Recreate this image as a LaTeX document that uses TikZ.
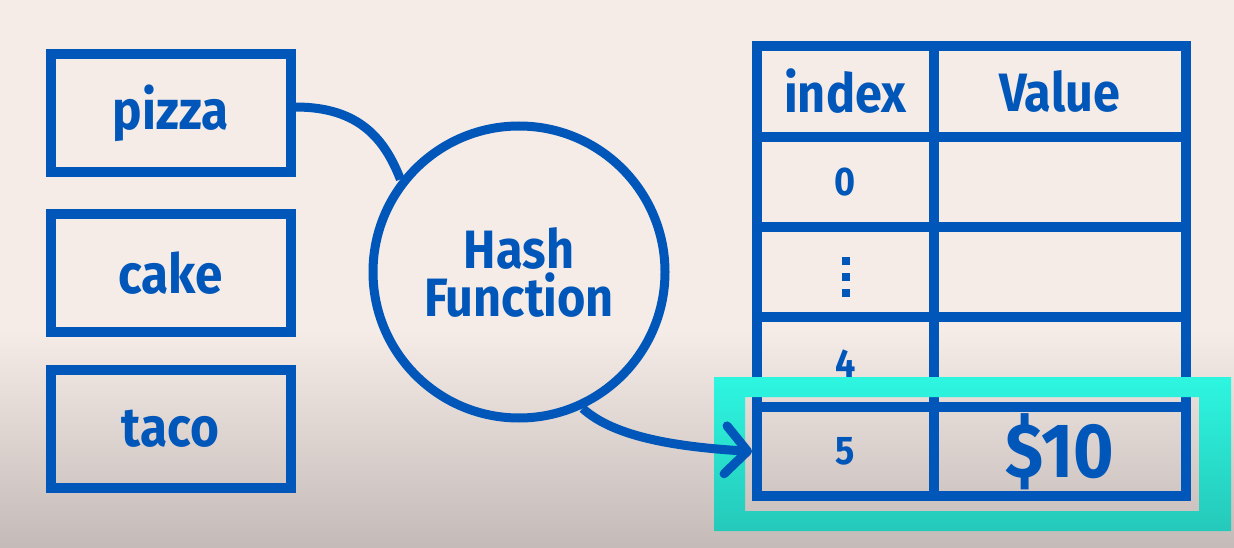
\documentclass[tikz,border=0pt]{standalone}
\usepackage{fontspec}
\setmainfont{Fira Sans}[FakeStretch=0.9]
\usetikzlibrary{arrows.meta}
\definecolor{hblue}{RGB}{0,87,185}
\definecolor{bgtop}{RGB}{245,235,231}
\definecolor{bgbot}{RGB}{196,187,184}
\definecolor{tealtop}{RGB}{45,246,224}
\definecolor{tealbot}{RGB}{37,201,186}
\begin{document}
\begin{tikzpicture}[x=1pt,y=-1pt,
  keybox/.style={draw=hblue, line width=10pt, minimum width=240pt, minimum height=118pt,
    inner sep=0pt, text=hblue, font=\fontsize{55}{60}\selectfont\bfseries},
  hashnode/.style={circle, draw=hblue, line width=9pt, minimum size=292pt, inner sep=0pt,
    text=hblue, align=center, font=\fontsize{54}{48}\selectfont\bfseries},
  cellbox/.style={draw=hblue, line width=10pt, inner sep=0pt, text=hblue},
  idxcell/.style={cellbox, minimum width=176.5pt},
  valcell/.style={cellbox, minimum width=252.2pt},
  headfont/.style={font=\fontsize{54}{60}\selectfont\bfseries},
  digfont/.style={font=\fontsize{40}{48}\selectfont\bfseries},
  bigfont/.style={font=\fontsize{77}{80}\selectfont\bfseries},
  conn/.style={draw=hblue, line width=9pt},
]
\useasboundingbox (0,0) rectangle (1234,548);
% background
\fill[bgtop] (0,0) rectangle (1234,548);
\shade[top color=bgtop, bottom color=bgbot] (0,330) rectangle (1234,548);

% keys
\node[keybox] (pizza) at (170.5,113) {pizza};
\node[keybox] (cake) at (170.5,273) {cake};
\node[keybox] (taco) at (170.5,429) {taco};

% hash function
\node[hashnode] (hash) at (519,272) {Hash\\Function};

% table
\node[idxcell, minimum height=91pt, headfont] (ih) at (845.25,91.5) {index};
\node[valcell, minimum height=91pt, headfont] (vh) at (1059.6,91.5) {Value};
\node[idxcell, minimum height=90pt, digfont] (i0) at (845.25,182) {0};
\node[valcell, minimum height=90pt] (v0) at (1059.6,182) {};
\node[idxcell, minimum height=90pt] (id) at (845.25,272) {};
\node[valcell, minimum height=90pt] (vd) at (1059.6,272) {};
\node[idxcell, minimum height=90pt, digfont, text depth=0pt] (i4) at (845.25,362) {\raisebox{-3pt}{4}};
\node[valcell, minimum height=90pt] (v4) at (1059.6,362) {};
\node[idxcell, minimum height=89pt, digfont] (i5) at (845.25,451.5) {\raisebox{-2pt}{5}};
\node[valcell, minimum height=89pt, bigfont] (v5) at (1059.6,451.5) {\$10};
% vertical dots
\fill[hblue] (842,257) rectangle (850,265);
\fill[hblue] (842,273) rectangle (850,281);
\fill[hblue] (842,289) rectangle (850,297);

% highlight frame
\shade[top color=tealtop, bottom color=tealbot, even odd rule]
  (714,377) rectangle (1231,531) (745,397) rectangle (1199,511);

% connectors
\draw[conn] ([yshift=6pt]pizza.east) .. controls (360,107) and (385,140) .. (hash.142);
\draw[conn, -{Straight Barb[length=22pt,width=48pt,round]}]
  (hash.-65) .. controls (615,438) and (680,447) .. (i5.west);
\end{tikzpicture}
\end{document}
